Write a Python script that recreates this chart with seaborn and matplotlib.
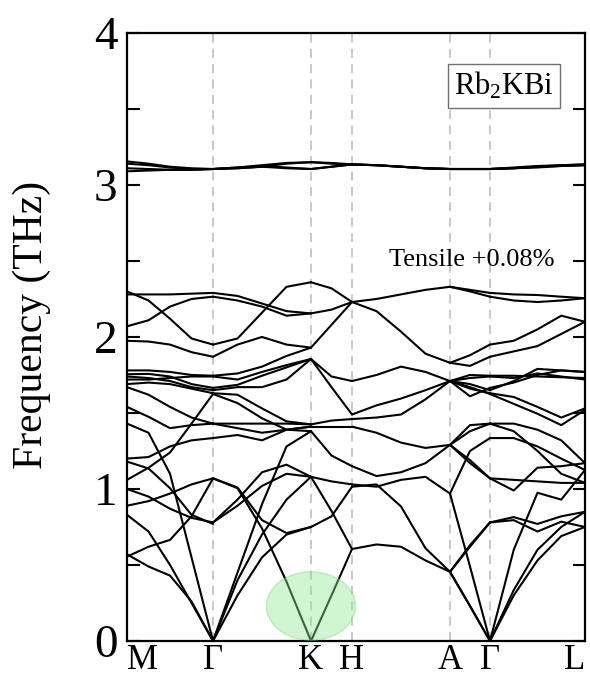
import numpy as np
import pandas as pd
import seaborn as sns
import matplotlib
matplotlib.use("Agg")
import matplotlib.pyplot as plt
from matplotlib.patches import Ellipse
from matplotlib.ticker import MultipleLocator, FuncFormatter

# High-symmetry path
sym_labels = ["M", "Γ", "K", "H", "A", "Γ", "L"]
sym_pos = [0.0, 0.86, 1.84, 2.25, 3.23, 3.63, 4.58]

# Phonon branches (THz) sampled along each path segment
mg = [
    [2.28, 2.28, 2.28, 2.285, 2.29],
    [2.30, 2.24, 2.12, 1.99, 1.95],
    [2.07, 2.11, 2.20, 2.25, 2.265],
    [1.975, 1.97, 1.95, 1.90, 1.87],
    [1.78, 1.78, 1.77, 1.75, 1.745],
    [1.72, 1.72, 1.73, 1.74, 1.74],
    [1.755, 1.757, 1.74, 1.69, 1.665],
    [1.74, 1.73, 1.71, 1.67, 1.65],
    [1.69, 1.70, 1.69, 1.66, 1.63],
    [1.67, 1.62, 1.54, 1.47, 1.43],
    [1.54, 1.475, 1.40, 1.42, 1.43],
    [1.43, 1.37, 1.10, 0.55, 0.0],
    [1.20, 1.21, 1.28, 1.32, 1.335],
    [1.18, 1.135, 1.005, 0.83, 0.77],
    [1.06, 1.14, 1.24, 1.43, 1.625],
    [1.00, 0.95, 0.87, 0.81, 0.78],
    [0.89, 0.92, 0.97, 1.03, 1.07],
    [0.83, 0.72, 0.50, 0.25, 0.0],
    [0.57, 0.49, 0.43, 0.26, 0.0],
    [0.555, 0.62, 0.665, 0.82, 1.07],
]

gk = [
    [2.29, 2.27, 2.22, 2.17, 2.155],
    [2.265, 2.24, 2.20, 2.14, 2.155],
    [1.95, 1.99, 2.16, 2.33, 2.36],
    [1.87, 1.95, 2.00, 1.95, 1.93],
    [1.745, 1.76, 1.805, 1.875, 1.93],
    [1.74, 1.72, 1.77, 1.815, 1.855],
    [1.665, 1.685, 1.745, 1.80, 1.855],
    [1.65, 1.67, 1.67, 1.72, 1.855],
    [1.63, 1.62, 1.53, 1.445, 1.425],
    [1.625, 1.565, 1.465, 1.39, 1.38],
    [1.43, 1.43, 1.43, 1.43, 1.425],
    [1.43, 1.40, 1.37, 1.39, 1.41],
    [1.335, 1.355, 1.32, 1.39, 1.41],
    [1.07, 1.005, 0.74, 0.39, 0.0],
    [1.07, 1.01, 0.795, 0.71, 0.75],
    [0.78, 0.93, 1.11, 1.16, 1.08],
    [0.78, 0.89, 1.02, 1.10, 1.08],
    [0.0, 0.45, 0.90, 1.28, 1.38],
    [0.0, 0.40, 0.70, 0.93, 1.08],
    [0.0, 0.30, 0.55, 0.70, 0.75],
]

kh = [
    [2.36, 2.32, 2.23],
    [2.155, 2.18, 2.23],
    [1.93, 2.08, 2.23],
    [1.855, 1.74, 1.71],
    [1.855, 1.67, 1.49],
    [1.425, 1.45, 1.46],
    [1.41, 1.41, 1.41],
    [1.38, 1.22, 1.15],
    [1.08, 1.05, 1.03],
    [1.08, 0.855, 0.605],
    [0.75, 0.82, 1.015],
    [0.0, 0.30, 0.605],
]

ha = [
    [2.23, 2.25, 2.28, 2.31, 2.33],
    [2.23, 2.17, 2.035, 1.89, 1.83],
    [1.71, 1.75, 1.805, 1.77, 1.71],
    [1.49, 1.55, 1.595, 1.65, 1.71],
    [1.46, 1.47, 1.49, 1.59, 1.71],
    [1.41, 1.37, 1.305, 1.27, 1.29],
    [1.15, 1.085, 1.11, 1.17, 1.29],
    [1.03, 1.015, 1.06, 1.08, 0.97],
    [1.015, 1.03, 0.885, 0.61, 0.455],
    [0.605, 0.635, 0.62, 0.53, 0.455],
]

ag = [
    [2.33, 2.31, 2.29],
    [2.33, 2.30, 2.265],
    [1.83, 1.88, 1.95],
    [1.83, 1.81, 1.87],
    [1.71, 1.75, 1.745],
    [1.71, 1.73, 1.74],
    [1.71, 1.61, 1.665],
    [1.71, 1.69, 1.65],
    [1.71, 1.66, 1.63],
    [1.71, 1.67, 1.625],
    [1.29, 1.42, 1.43],
    [1.29, 1.38, 1.43],
    [1.29, 1.17, 1.07],
    [1.29, 1.19, 1.07],
    [0.97, 1.25, 1.335],
    [0.97, 0.49, 0.0],
    [0.455, 0.23, 0.0],
    [0.455, 0.23, 0.0],
    [0.455, 0.63, 0.78],
    [0.455, 0.62, 0.78],
]

gl = [
    [2.29, 2.28, 2.276, 2.265, 2.255],
    [2.265, 2.24, 2.23, 2.24, 2.255],
    [1.95, 1.975, 2.05, 2.14, 2.10],
    [1.87, 1.905, 1.94, 2.02, 2.10],
    [1.745, 1.745, 1.74, 1.735, 1.73],
    [1.74, 1.73, 1.76, 1.74, 1.72],
    [1.65, 1.71, 1.79, 1.78, 1.77],
    [1.665, 1.70, 1.75, 1.78, 1.77],
    [1.63, 1.605, 1.54, 1.47, 1.53],
    [1.625, 1.56, 1.495, 1.42, 1.52],
    [1.43, 1.43, 1.39, 1.32, 1.17],
    [1.43, 1.38, 1.25, 1.10, 1.04],
    [1.335, 1.335, 1.28, 1.20, 1.125],
    [1.07, 1.06, 1.05, 1.04, 1.04],
    [1.07, 0.99, 1.14, 1.15, 1.17],
    [0.78, 0.795, 0.72, 0.785, 0.75],
    [0.78, 0.815, 0.77, 0.82, 0.85],
    [0.0, 0.60, 0.975, 0.93, 1.125],
    [0.0, 0.335, 0.60, 0.75, 0.85],
    [0.0, 0.30, 0.53, 0.69, 0.75],
]

# Upper optical group, sampled on the full path grid (21 points)
top_bands = [
    [3.155, 3.14, 3.12, 3.11, 3.105, 3.11, 3.12, 3.14, 3.15, 3.145, 3.135,
     3.13, 3.12, 3.11, 3.105, 3.105, 3.105, 3.115, 3.125, 3.13, 3.135],
    [3.14, 3.13, 3.115, 3.105, 3.105, 3.115, 3.13, 3.145, 3.15, 3.14, 3.135,
     3.13, 3.12, 3.11, 3.105, 3.105, 3.105, 3.11, 3.12, 3.125, 3.13],
    [3.11, 3.105, 3.10, 3.10, 3.105, 3.115, 3.125, 3.115, 3.105, 3.12, 3.135,
     3.13, 3.12, 3.11, 3.105, 3.105, 3.105, 3.11, 3.115, 3.125, 3.13],
    [3.09, 3.095, 3.10, 3.10, 3.105, 3.11, 3.12, 3.11, 3.105, 3.12, 3.135,
     3.13, 3.12, 3.11, 3.105, 3.105, 3.105, 3.11, 3.12, 3.13, 3.135],
]

segments = [(0, 1, mg), (1, 2, gk), (2, 3, kh), (3, 4, ha), (4, 5, ag), (5, 6, gl)]

records = []
path_k = []
for s, (i0, i1, bands) in enumerate(segments):
    ks = np.linspace(sym_pos[i0], sym_pos[i1], len(bands[0]))
    path_k.extend(ks if s == 0 else ks[1:])
    for b, vals in enumerate(bands):
        for k, f in zip(ks, vals):
            records.append((f"s{s}_b{b}", k, f))
for b, vals in enumerate(top_bands):
    for k, f in zip(path_k, vals):
        records.append((f"top_b{b}", k, f))

df = pd.DataFrame(records, columns=["branch", "k", "freq"])

sns.set_theme(style="white")
plt.rcParams["font.family"] = ["Liberation Serif", "DejaVu Serif"]
plt.rcParams["mathtext.fontset"] = "custom"
plt.rcParams["mathtext.rm"] = "Liberation Serif"
plt.rcParams["mathtext.it"] = "Liberation Serif:italic"
for key in ("text.color", "axes.labelcolor", "xtick.color", "ytick.color"):
    plt.rcParams[key] = "black"

fig = plt.figure(figsize=(5.9, 6.77), dpi=100)
ax = fig.add_axes([0.2153, 0.0532, 0.7762, 0.8981])

for xp in sym_pos[1:-1]:
    ax.axvline(xp, color="#c4c4c4", lw=1.3, ls=(0, (5, 3.5)), zorder=0)

sns.lineplot(data=df, x="k", y="freq", units="branch", estimator=None,
             color="black", lw=1.5, sort=False, legend=False, ax=ax, zorder=2)
for ln in ax.get_lines():
    ln.set_solid_joinstyle("round")

ax.add_patch(Ellipse((sym_pos[2], 0.23), 0.89, 0.45, facecolor="#8fe88f",
                     edgecolor="#7fd87f", lw=1.0, alpha=0.42, zorder=3))

ax.set_xlim(sym_pos[0], sym_pos[-1])
ax.set_ylim(0, 4)
ax.set_xticks(sym_pos)
ax.set_xticklabels(sym_labels, fontsize=25)
ax.tick_params(axis="x", length=0, pad=2)
xlabels = ax.get_xticklabels()
xlabels[0].set_horizontalalignment("left")
xlabels[-1].set_horizontalalignment("right")

ax.yaxis.set_major_locator(MultipleLocator(1))
ax.yaxis.set_minor_locator(MultipleLocator(0.5))
ax.yaxis.set_major_formatter(FuncFormatter(lambda v, p: f"{v:.0f}"))
ax.tick_params(axis="y", which="both", direction="in", left=True, right=True,
               length=9, width=1.5, labelsize=34, pad=7, color="black")

ax.set_xlabel("")
ax.set_ylabel("Frequency (THz)", fontsize=30, labelpad=26)
ax.yaxis.set_label_coords(-0.165, 0.52)

for sp in ax.spines.values():
    sp.set_linewidth(1.6)
    sp.set_color("black")

ax.text(0.823, 0.913, "Rb$_2$KBi", transform=ax.transAxes, fontsize=22,
        ha="center", va="center",
        bbox=dict(boxstyle="square,pad=0.2", facecolor="white",
                  edgecolor="#707070", lw=1.0))
ax.text(0.753, 0.627, "Tensile +0.08%", transform=ax.transAxes, fontsize=19,
        ha="center", va="center")

fig.savefig("out.png", dpi=100)
